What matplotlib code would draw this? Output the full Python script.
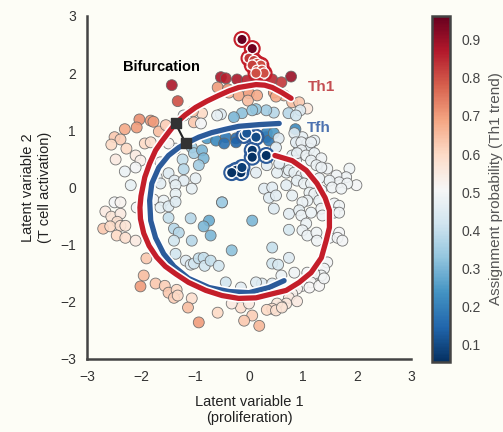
import matplotlib
matplotlib.use("Agg")
import matplotlib.pyplot as plt
import matplotlib.patheffects as pe
import numpy as np

plt.rcParams['font.family'] = ['Liberation Sans', 'DejaVu Sans']

# ---- cells: latent coordinates and Th1 assignment probability ----
cell_x = [
    -1.43, -1.32, -0.52, -0.43, -0.22, -0.04, 0.15, 0.43, 0.60, 0.78,
    -0.58, -0.39, -0.37, -0.19, 0.00, 0.15, 0.46, 0.65, -0.02, 0.80, 0.93, 1.08, 0.50,
    0.95, 0.73, 0.46, 0.32, 0.13, -0.13, -0.28, 0.06, -0.52, -0.59, -0.87, -1.04, -1.02, -0.89, -1.21, 0.87,
    -0.78, -0.61, -0.43, -0.46, -0.24, -0.24, 0.32, 0.33, 0.37, 0.46, 0.86,
    -1.06, -1.02, -0.87, -0.84, -0.93, -1.23, -1.21, -1.36,
    0.55, 0.50, 0.99, 1.08, 1.21, 1.12, 0.93, 0.84, 0.87, 0.80, 0.87, 0.74, 0.69, 0.52, 0.56, 0.33, 0.13,
    -0.99, -1.06, 0.28, 0.43, 0.69, -0.50, 0.37, 0.50,
    0.97, 1.15, 0.97, 0.89, 1.06, 1.21, 1.34, 1.15, 1.25, 1.45, 1.34, 1.86, 1.80, 1.99, 1.62, 1.67,
    1.49, 1.82, 1.54, 1.71, 0.74, 0.84, 0.97, 1.06, 0.89, 1.02, 1.15, 1.30, 1.12, 1.21, 1.34, 1.08,
    0.99, 1.30, 1.34, 1.58, 1.67, 1.58, 1.67, 0.46, 0.80, 0.74, 0.93, 0.97, 1.15, 1.06, 1.36,
    0.74, 0.99, 1.08, 1.25, 1.26, 1.49, 1.67, 1.64, 1.73, 0.43, 0.43, 0.54, 0.74, 1.45, 1.39, 1.34,
    1.21, 1.08, 0.84, 0.60, 0.24, 0.13, 1.15, 0.99, 1.12, 1.30, 1.39, -0.15, 0.89, 0.80, 0.74, 0.89,
    0.69, 0.60, 0.52, 0.43, 0.33, 0.50, 0.61, 0.43, 0.06, -0.09, 0.19, -0.15, 0.00,
    -1.95, -2.01, -1.73, -1.56, -1.49, -1.34, -1.39, -1.32, -1.06, -1.13, -0.93, -0.58, -0.43, -0.32, -1.90,
    -2.03, -1.82, -1.77, -2.08, -2.30, -1.67, -1.54, -2.49, -2.38, -2.55, -2.27, -1.93, -1.82, -1.49,
    -2.47, -2.10, -2.01, -2.10, -2.30, -2.19, -1.64, -1.49, -1.71, -1.64, -1.38, -1.21, -1.36, -1.36,
    -1.77, -1.58, -1.64, -1.49, -1.36, -2.49, -2.38, -2.66, -2.55, -2.38, -2.08, -2.44, -2.70, -2.57,
    -2.38, -2.29, -2.45, -2.29, -2.10, -1.49, -1.39, -1.30, -1.39, -1.08, -1.36, -1.17, -1.08,
    -0.50, -0.74, -0.84, -0.71, -1.06, -0.32, 0.06, -1.02, -0.93, -0.84, -0.82, -0.71, -0.56,
]
cell_y = [
    1.79, 1.51, 1.93, 1.91, 1.89, 1.87, 1.87, 1.89, 1.84, 1.94,
    1.75, 1.72, 1.66, 1.61, 1.65, 1.61, 1.66, 1.61, 1.52, 1.49, 1.49, 1.38, 1.59,
    1.35, 1.30, 1.31, 1.35, 1.37, 1.30, 1.23, 1.35, 1.28, 1.26, 1.30, 1.33, 1.14, 1.12, 1.26, 1.26,
    0.86, 0.82, 0.88, 0.77, 0.86, 0.79, 0.88, 0.96, 0.82, 0.95, 1.02,
    0.70, 0.60, 0.65, 0.51, 0.39, 0.49, 0.32, 0.68,
    0.86, 0.70, 0.88, 0.77, 0.82, 0.68, 0.70, 0.95, 0.79, 0.56, 0.47, 0.39, 0.26, 0.26, 0.42, 0.39, 0.26,
    0.16, -0.02, -0.02, 0.00, 0.04, -0.26, -0.18, -0.14,
    0.79, 0.79, 0.65, 0.60, 0.56, 0.60, 0.51, 0.47, 0.39, 0.33, 0.35, 0.33, 0.18, 0.04, 0.21, 0.09,
    0.12, 0.07, 0.00, -0.02, 0.30, 0.26, 0.21, 0.25, 0.12, 0.07, 0.07, 0.16, -0.09, -0.11, -0.05, -0.23,
    -0.26, -0.23, -0.37, -0.28, -0.32, -0.44, -0.44, -0.37, -0.14, -0.46, -0.40, -0.49, -0.44, -0.63, -0.49,
    -0.74, -0.75, -0.84, -0.79, -0.93, -0.88, -0.79, -0.88, -0.93, -1.05, -1.33, -1.35, -1.23, -1.31, -1.42, -1.54,
    -1.51, -1.49, -1.49, -1.54, -1.68, -1.66, -1.66, -1.72, -1.75, -1.72, -1.59, -1.75, -1.77, -1.86, -1.93, -1.99,
    -2.03, -2.08, -2.03, -2.12, -2.14, -2.15, -2.10, -1.68, -2.24, -2.33, -2.42, -2.10, -2.03,
    -1.54, -1.73, -1.68, -1.72, -1.84, -1.79, -1.93, -1.89, -1.94, -2.10, -2.36, -2.19, -1.66, -2.03, -1.24,
    1.19, 1.17, 1.15, 1.05, 1.02, 0.98, 1.09, 0.88, 0.84, 0.75, 0.68, 0.77, 0.79, 0.77,
    0.49, 0.56, 0.47, 0.35, 0.28, 0.04, 0.44, 0.25, 0.18, 0.07, 0.12, 0.12, 0.04, -0.11,
    -0.21, -0.23, -0.35, -0.33, -0.25, -0.26, -0.26, -0.42, -0.51, -0.46, -0.35, -0.60, -0.72, -0.68,
    -0.67, -0.67, -0.84, -0.88, -0.93, -0.53, -0.72, -0.79, -0.93, -0.54, -1.16, -1.28, -1.35,
    -0.26, -0.58, -0.68, -0.84, -0.93, -1.10, -0.58, -1.33, -1.24, -1.23, -1.37, -1.28, -1.37,
]
cell_p = [
    0.88, 0.80, 0.88, 0.86, 0.88, 0.86, 0.85, 0.85, 0.83, 0.90,
    0.70, 0.72, 0.66, 0.68, 0.70, 0.68, 0.70, 0.68, 0.65, 0.65, 0.63, 0.56, 0.68,
    0.45, 0.38, 0.38, 0.35, 0.33, 0.32, 0.30, 0.33, 0.45, 0.47, 0.60, 0.65, 0.63, 0.50, 0.45, 0.42,
    0.25, 0.22, 0.18, 0.17, 0.15, 0.14, 0.15, 0.20, 0.18, 0.25, 0.22,
    0.35, 0.35, 0.30, 0.30, 0.35, 0.40, 0.38, 0.45,
    0.45, 0.45, 0.47, 0.47, 0.47, 0.47, 0.47, 0.45, 0.46, 0.46, 0.46, 0.47, 0.47, 0.47, 0.46, 0.46, 0.46,
    0.47, 0.47, 0.46, 0.46, 0.46, 0.35, 0.45, 0.46,
    0.48, 0.48, 0.48, 0.47, 0.48, 0.48, 0.49, 0.48, 0.48, 0.49, 0.48, 0.49, 0.49, 0.50, 0.49, 0.49,
    0.48, 0.49, 0.49, 0.49, 0.47, 0.47, 0.48, 0.48, 0.47, 0.48, 0.48, 0.48, 0.48, 0.48, 0.48, 0.48,
    0.48, 0.48, 0.49, 0.49, 0.49, 0.49, 0.49, 0.45, 0.47, 0.46, 0.47, 0.48, 0.48, 0.48, 0.49,
    0.43, 0.48, 0.48, 0.49, 0.49, 0.49, 0.50, 0.50, 0.50, 0.40, 0.42, 0.43, 0.45, 0.50, 0.50, 0.50,
    0.50, 0.50, 0.49, 0.48, 0.45, 0.45, 0.51, 0.51, 0.51, 0.51, 0.50, 0.46, 0.52, 0.53, 0.55, 0.55,
    0.56, 0.57, 0.56, 0.58, 0.60, 0.58, 0.57, 0.45, 0.62, 0.63, 0.66, 0.58, 0.55,
    0.65, 0.70, 0.63, 0.62, 0.63, 0.60, 0.62, 0.60, 0.58, 0.65, 0.70, 0.60, 0.42, 0.55, 0.63,
    0.72, 0.70, 0.70, 0.70, 0.68, 0.65, 0.62, 0.63, 0.62, 0.60, 0.60, 0.60, 0.58, 0.52,
    0.55, 0.55, 0.53, 0.50, 0.48, 0.47, 0.50, 0.45, 0.47, 0.46, 0.46, 0.46, 0.47, 0.47,
    0.50, 0.48, 0.47, 0.45, 0.45, 0.50, 0.52, 0.55, 0.57, 0.55, 0.50, 0.58, 0.63, 0.60,
    0.58, 0.57, 0.60, 0.58, 0.55, 0.40, 0.38, 0.38, 0.42, 0.38, 0.42, 0.45, 0.45,
    0.35, 0.28, 0.30, 0.30, 0.38, 0.32, 0.30, 0.42, 0.40, 0.40, 0.42, 0.40, 0.42,
]

# highlighted cells at the ends of each branch
th1_x = [-0.13, 0.06, 0.00, 0.09, 0.15, 0.22, 0.06, 0.15, 0.24, 0.28, 0.13]
th1_y = [2.59, 2.43, 2.26, 2.22, 2.17, 2.14, 2.14, 2.05, 2.05, 2.00, 2.00]
th1_p = [0.96, 0.95, 0.83, 0.82, 0.80, 0.80, 0.82, 0.80, 0.80, 0.80, 0.80]
tfh_x = [-0.09, -0.04, 0.13, 0.06, 0.06, 0.32, -0.24, -0.15, -0.13, -0.32]
tfh_y = [0.91, 0.95, 0.88, 0.65, 0.53, 0.56, 0.30, 0.26, 0.35, 0.26]
tfh_p = [0.10, 0.12, 0.10, 0.07, 0.06, 0.06, 0.05, 0.06, 0.08, 0.06]

# ---- trajectories ----
th1_curve_x = [0.48, 0.80, 1.06, 1.26, 1.41, 1.49, 1.49, 1.43, 1.34, 1.15, 0.93, 0.69, 0.43, 0.13,
               -0.19, -0.50, -0.80, -1.12, -1.36, -1.55, -1.71, -1.85, -1.95, -2.01, -2.02, -2.00,
               -1.93, -1.84, -1.73, -1.62, -1.50, -1.36, -1.18, -0.99, -0.78, -0.56, -0.37, -0.19,
               0.00, 0.13, 0.29, 0.43, 0.61, 0.78]
th1_curve_y = [0.56, 0.47, 0.30, 0.07, -0.18, -0.40, -0.70, -0.93, -1.23, -1.49, -1.66, -1.80, -1.86,
               -1.93, -1.94, -1.89, -1.80, -1.66, -1.51, -1.38, -1.22, -1.02, -0.80, -0.55, -0.35,
               -0.15, 0.18, 0.42, 0.65, 0.80, 0.95, 1.12, 1.27, 1.40, 1.51, 1.61, 1.69, 1.75,
               1.78, 1.80, 1.79, 1.75, 1.66, 1.56]
tfh_curve_x = [0.65, 0.37, 0.00, -0.37, -0.74, -1.12, -1.39, -1.58, -1.73, -1.82, -1.84, -1.80,
               -1.67, -1.49, -1.30, -1.17, -0.93, -0.69, -0.43, -0.19, 0.19, 0.56]
tfh_curve_y = [-1.63, -1.75, -1.84, -1.82, -1.75, -1.59, -1.38, -1.16, -0.88, -0.58, -0.23, 0.07,
               0.35, 0.56, 0.70, 0.77, 0.88, 0.96, 1.02, 1.07, 1.10, 1.12]
bifurcation_x = [-1.36, -1.17]
bifurcation_y = [1.12, 0.77]

BG = '#fdfdf6'
GREY = '#444444'
RED_LINE = '#c41e2a'
BLUE_LINE = '#2c5b9a'

fig = plt.figure(figsize=(5.03, 4.32), dpi=100, facecolor=BG)
ax = fig.add_axes([0.173, 0.169, 0.644, 0.794], facecolor=BG)
cax = fig.add_axes([0.859, 0.162, 0.036, 0.801])

cmap = plt.get_cmap('RdBu_r')
norm = matplotlib.colors.Normalize(vmin=0.053, vmax=0.963)

sc = ax.scatter(cell_x, cell_y, c=cell_p, cmap=cmap, norm=norm, s=62,
                edgecolors='#666666', linewidths=0.6, alpha=0.9, zorder=2)

# branch-end cells with rings
ax.scatter(th1_x, th1_y, s=115, facecolors='none', edgecolors=RED_LINE, linewidths=1.5, zorder=3)
ax.scatter(th1_x, th1_y, c=th1_p, cmap=cmap, norm=norm, s=55, edgecolors='white',
           linewidths=0.9, zorder=3)
ax.scatter(tfh_x, tfh_y, s=115, facecolors='none', edgecolors=BLUE_LINE, linewidths=1.5, zorder=3)
ax.scatter(tfh_x, tfh_y, c=tfh_p, cmap=cmap, norm=norm, s=55, edgecolors='white',
           linewidths=0.9, zorder=3)

outline = [pe.Stroke(linewidth=6.2, foreground='white'), pe.Normal()]
ax.plot(tfh_curve_x, tfh_curve_y, color=BLUE_LINE, lw=3.8, solid_capstyle='round',
        path_effects=outline, zorder=4)
ax.plot(th1_curve_x, th1_curve_y, color=RED_LINE, lw=3.8, solid_capstyle='round',
        path_effects=outline, zorder=5)

ax.plot(bifurcation_x, bifurcation_y, color='#222222', lw=1.5, zorder=6)
ax.scatter(bifurcation_x, bifurcation_y, marker='s', s=55, color='#333333', zorder=7)

ax.text(-1.63, 2.11, 'Bifurcation', fontsize=10.5, fontweight='bold', color='black',
        ha='center', va='center', zorder=8)
ax.text(1.34, 1.75, 'Th1', fontsize=11, fontweight='bold', color='#c44e52',
        ha='center', va='center', zorder=8)
ax.text(1.30, 1.04, 'Tfh', fontsize=11, fontweight='bold', color='#4c72b0',
        ha='center', va='center', zorder=8)

ax.set_xlim(-3, 3)
ax.set_ylim(-3, 3)
ticks = [-3, -2, -1, 0, 1, 2, 3]
ax.set_xticks(ticks)
ax.set_yticks(ticks)
ax.set_xticklabels(['\u22123', '\u22122', '\u22121', '0', '1', '2', '3'])
ax.set_yticklabels(['\u22123', '\u22122', '\u22121', '0', '1', '2', '3'])
ax.tick_params(length=0, labelsize=10, labelcolor='#333333', pad=8)
for s in ['top', 'right']:
    ax.spines[s].set_visible(False)
for s in ['left', 'bottom']:
    ax.spines[s].set_color(GREY)
    ax.spines[s].set_linewidth(1.8)
ax.set_xlabel('Latent variable 1\n(proliferation)', fontsize=10.5, color='#222222', labelpad=8)
ax.set_ylabel('Latent variable 2\n(T cell activation)', fontsize=10.5, color='#222222', labelpad=6)

cb = fig.colorbar(sc, cax=cax)
cb.solids.set_alpha(1)
cb.set_ticks([0.1, 0.2, 0.3, 0.4, 0.5, 0.6, 0.7, 0.8, 0.9])
cb.ax.tick_params(length=0, labelsize=10, labelcolor='#444444', pad=8)
cb.outline.set_edgecolor(GREY)
cb.outline.set_linewidth(1.8)
cb.set_label('Assignment probability (Th1 trend)', fontsize=11, color='#555555', labelpad=6)

fig.savefig('out.png', dpi=100, facecolor=BG)
